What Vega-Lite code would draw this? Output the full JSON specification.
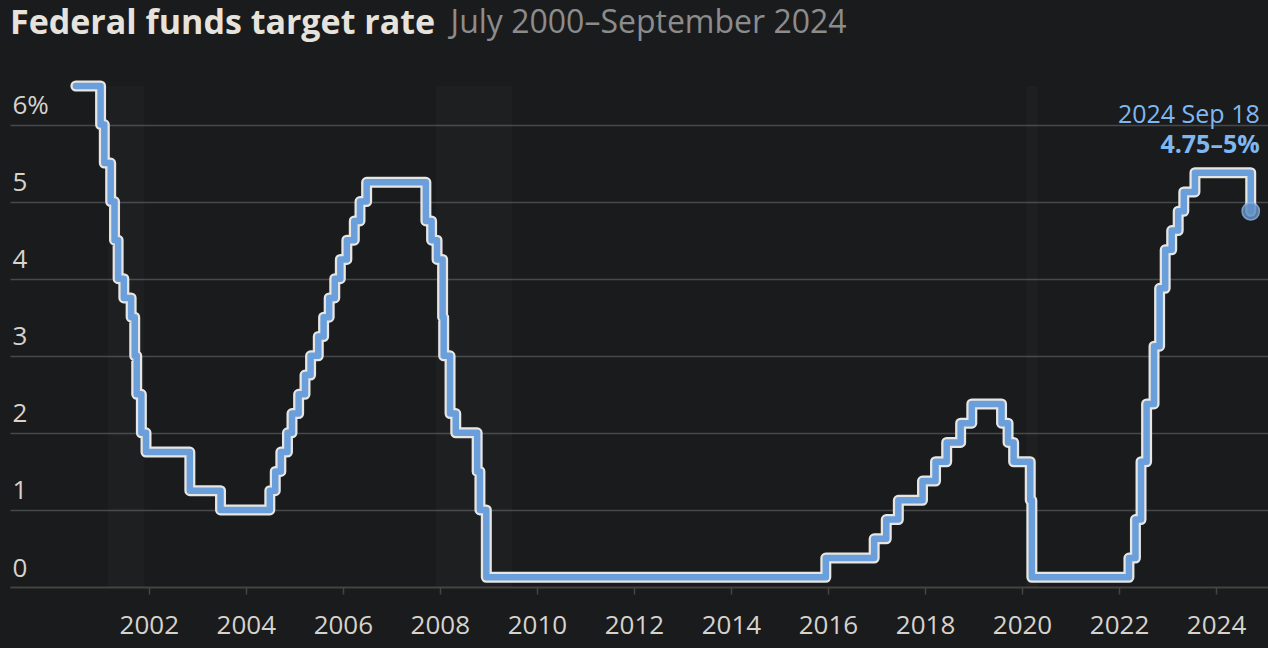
{
  "$schema": "https://vega.github.io/schema/vega-lite/v6.json",
  "autosize": {"type": "none"},
  "width": 1258,
  "height": 501,
  "padding": {"left": 10, "top": 86, "right": 0, "bottom": 61},
  "background": "#1a1b1d",
  "config": {
    "view": {"stroke": null, "fill": "#1a1b1d"},
    "font": "Open Sans"
  },
  "title": {
    "text": "Federal funds target rate",
    "subtitle": "\u200b\u00a0\u00a0\u00a0\u00a0\u00a0\u00a0\u00a0\u00a0\u00a0\u00a0\u00a0\u00a0\u00a0\u00a0\u00a0\u00a0\u00a0\u00a0\u00a0\u00a0\u00a0\u00a0\u00a0\u00a0\u00a0\u00a0\u00a0\u00a0\u00a0\u00a0\u00a0\u00a0\u00a0\u00a0\u00a0\u00a0\u00a0\u00a0\u00a0\u00a0\u00a0\u00a0\u00a0\u00a0\u00a0\u00a0\u00a0\u00a0\u00a0\u00a0\u00a0\u00a0\u00a0July 2000–September 2024",
    "anchor": "start",
    "frame": "group",
    "font": "Open Sans",
    "fontSize": 34,
    "fontWeight": "bold",
    "color": "#e6e2dc",
    "subtitleFont": "Open Sans",
    "subtitleFontSize": 32,
    "subtitleColor": "#8c8c8c",
    "subtitlePadding": -33,
    "offset": 40
  },
  "datasets": {
    "rate": [
      {"date": "2000-07-01", "rate": 6.5},
      {"date": "2001-01-03", "rate": 6.0},
      {"date": "2001-01-31", "rate": 5.5},
      {"date": "2001-03-20", "rate": 5.0},
      {"date": "2001-04-18", "rate": 4.5},
      {"date": "2001-05-15", "rate": 4.0},
      {"date": "2001-06-27", "rate": 3.75},
      {"date": "2001-08-21", "rate": 3.5},
      {"date": "2001-09-17", "rate": 3.0},
      {"date": "2001-10-02", "rate": 2.5},
      {"date": "2001-11-06", "rate": 2.0},
      {"date": "2001-12-11", "rate": 1.75},
      {"date": "2002-11-06", "rate": 1.25},
      {"date": "2003-06-25", "rate": 1.0},
      {"date": "2004-06-30", "rate": 1.25},
      {"date": "2004-08-10", "rate": 1.5},
      {"date": "2004-09-21", "rate": 1.75},
      {"date": "2004-11-10", "rate": 2.0},
      {"date": "2004-12-14", "rate": 2.25},
      {"date": "2005-02-02", "rate": 2.5},
      {"date": "2005-03-22", "rate": 2.75},
      {"date": "2005-05-03", "rate": 3.0},
      {"date": "2005-06-30", "rate": 3.25},
      {"date": "2005-08-09", "rate": 3.5},
      {"date": "2005-09-20", "rate": 3.75},
      {"date": "2005-11-01", "rate": 4.0},
      {"date": "2005-12-13", "rate": 4.25},
      {"date": "2006-01-31", "rate": 4.5},
      {"date": "2006-03-28", "rate": 4.75},
      {"date": "2006-05-10", "rate": 5.0},
      {"date": "2006-06-29", "rate": 5.25},
      {"date": "2007-09-18", "rate": 4.75},
      {"date": "2007-10-31", "rate": 4.5},
      {"date": "2007-12-11", "rate": 4.25},
      {"date": "2008-01-22", "rate": 3.5},
      {"date": "2008-01-30", "rate": 3.0},
      {"date": "2008-03-18", "rate": 2.25},
      {"date": "2008-04-30", "rate": 2.0},
      {"date": "2008-10-08", "rate": 1.5},
      {"date": "2008-10-29", "rate": 1.0},
      {"date": "2008-12-16", "rate": 0.125},
      {"date": "2015-12-16", "rate": 0.375},
      {"date": "2016-12-14", "rate": 0.625},
      {"date": "2017-03-15", "rate": 0.875},
      {"date": "2017-06-14", "rate": 1.125},
      {"date": "2017-12-13", "rate": 1.375},
      {"date": "2018-03-21", "rate": 1.625},
      {"date": "2018-06-13", "rate": 1.875},
      {"date": "2018-09-26", "rate": 2.125},
      {"date": "2018-12-19", "rate": 2.375},
      {"date": "2019-07-31", "rate": 2.125},
      {"date": "2019-09-18", "rate": 1.875},
      {"date": "2019-10-30", "rate": 1.625},
      {"date": "2020-03-03", "rate": 1.125},
      {"date": "2020-03-15", "rate": 0.125},
      {"date": "2022-03-16", "rate": 0.375},
      {"date": "2022-05-04", "rate": 0.875},
      {"date": "2022-06-15", "rate": 1.625},
      {"date": "2022-07-27", "rate": 2.375},
      {"date": "2022-09-21", "rate": 3.125},
      {"date": "2022-11-02", "rate": 3.875},
      {"date": "2022-12-14", "rate": 4.375},
      {"date": "2023-02-01", "rate": 4.625},
      {"date": "2023-03-22", "rate": 4.875},
      {"date": "2023-05-03", "rate": 5.125},
      {"date": "2023-07-26", "rate": 5.375},
      {"date": "2024-09-18", "rate": 4.875}
    ],
    "recessions": [
      {"start": "2001-03-01", "end": "2001-11-30"},
      {"start": "2007-12-01", "end": "2009-06-30"},
      {"start": "2020-02-01", "end": "2020-04-30"}
    ],
    "last": [
      {"date": "2024-09-18", "rate": 4.875, "label": "2024 Sep 18", "range": "4.75–5%", "ylab": 6.13, "yrange": 5.73}
    ]
  },
  "layer": [
    {
      "data": {"name": "recessions"},
      "mark": {"type": "rect", "color": "#ffffff", "opacity": 0.02},
      "encoding": {
        "x": {"field": "start", "type": "temporal"},
        "x2": {"field": "end"}
      }
    },
    {
      "data": {"name": "rate"},
      "mark": {"type": "line", "interpolate": "step-after", "color": "#e8e6e2", "strokeWidth": 11, "strokeCap": "round", "strokeJoin": "round"},
      "encoding": {
        "x": {
          "field": "date", "type": "temporal",
          "scale": {"domain": ["1999-02-21", "2025-01-26"]},
          "axis": {
            "values": [{"year": 2002}, {"year": 2004}, {"year": 2006}, {"year": 2008}, {"year": 2010}, {"year": 2012}, {"year": 2014}, {"year": 2016}, {"year": 2018}, {"year": 2020}, {"year": 2022}, {"year": 2024}],
            "format": "%Y",
            "title": null,
            "grid": false,
            "domainColor": "#48443f",
            "domainWidth": 1.5,
            "tickColor": "#48443f",
            "tickSize": 7,
            "tickWidth": 1.5,
            "labelFont": "Open Sans",
            "labelFontSize": 26,
            "labelColor": "#d6d2cc",
            "labelPadding": 18
          }
        },
        "y": {
          "field": "rate", "type": "quantitative",
          "scale": {"domain": [0, 6.5], "nice": false, "zero": true},
          "axis": {
            "values": [0, 1, 2, 3, 4, 5, 6],
            "labelExpr": "datum.value == 6 ? '6%' : format(datum.value, 'd')",
            "title": null,
            "domain": false,
            "ticks": false,
            "tickSize": 0,
            "grid": true,
            "gridColor": "#47484a",
            "gridWidth": 1.5,
            "labelAlign": "left",
            "labelBaseline": "alphabetic",
            "labelPadding": -2,
            "labelOffset": -11,
            "labelFont": "Open Sans",
            "labelFontSize": 26,
            "labelColor": "#d6d2cc"
          }
        }
      }
    },
    {
      "data": {"name": "rate"},
      "mark": {"type": "line", "interpolate": "step-after", "color": "#6a9fdb", "strokeWidth": 6.5, "strokeCap": "round", "strokeJoin": "round"},
      "encoding": {
        "x": {"field": "date", "type": "temporal"},
        "y": {"field": "rate", "type": "quantitative"}
      }
    },
    {
      "data": {"name": "last"},
      "mark": {"type": "point", "filled": true, "size": 300, "color": "#5f8ec4", "opacity": 0.85, "stroke": "#8fb6e0", "strokeWidth": 1.5},
      "encoding": {
        "x": {"field": "date", "type": "temporal"},
        "y": {"field": "rate", "type": "quantitative"}
      }
    },
    {
      "data": {"name": "last"},
      "mark": {"type": "text", "align": "right", "baseline": "middle", "dx": 9, "fontSize": 25, "color": "#7fb8f0", "font": "Open Sans"},
      "encoding": {
        "x": {"field": "date", "type": "temporal"},
        "y": {"field": "ylab", "type": "quantitative"},
        "text": {"field": "label"}
      }
    },
    {
      "data": {"name": "last"},
      "mark": {"type": "text", "align": "right", "baseline": "middle", "dx": 9, "fontSize": 25, "fontWeight": "bold", "color": "#7fb8f0", "font": "Open Sans"},
      "encoding": {
        "x": {"field": "date", "type": "temporal"},
        "y": {"field": "yrange", "type": "quantitative"},
        "text": {"field": "range"}
      }
    }
  ]
}
